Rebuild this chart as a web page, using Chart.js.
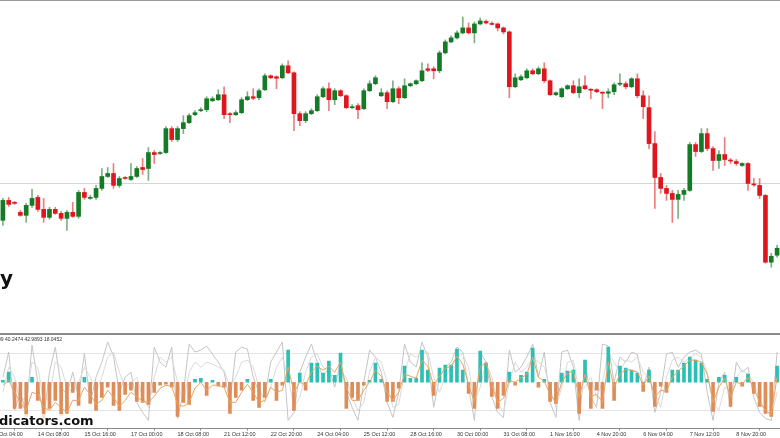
<!DOCTYPE html>
<html>
<head>
<meta charset="utf-8">
<script src="https://cdn.jsdelivr.net/npm/chart.js@4.4.1/dist/chart.umd.min.js"></script>
<style>
  html, body { margin: 0; padding: 0; background: #fff; }
  #wrap { position: relative; width: 780px; height: 438px; overflow: hidden; background: #fff; }
  #mainBox { position: absolute; left: 0; top: 0; width: 780px; height: 333px; border-top: 1px solid #9a9a9a; box-sizing: border-box; }
  #sep { position: absolute; left: 0; top: 333px; width: 780px; height: 2px; background: #8c8c8c; }
  #subBox { position: absolute; left: 0; top: 335px; width: 780px; height: 103px; }
  .mark { position: absolute; font-family: "DejaVu Sans", sans-serif; font-weight: bold; color: #111; white-space: nowrap; }
  #indText { position: absolute; left: -2px; top: 336px; font: 5px "Liberation Sans", sans-serif; color: #333; white-space: nowrap; }
</style>
</head>
<body>
<div id="wrap">
  <div id="mainBox"><canvas id="priceChart" width="780" height="332"></canvas></div>
  <div id="sep"></div>
  <div id="subBox"><canvas id="oscChart" width="780" height="103"></canvas></div>
  <div id="indText">99 40.2474 42.9893 18.0452</div>
  <div class="mark" style="left:0px; top:268px; font-size:20px; line-height:20px;">y</div>
  <div class="mark" style="left:-1px; top:414px; font-size:13px; line-height:14px; background:rgba(255,255,255,0.75);">dicators.com</div>
</div>
<script>
// candles (H4), one value per bar
const openP = [80,100,98,88,85,95,103,91,83,91,
  87,82,88,84,108,102,103,112,124,127,
  115,123,121,124,133,132,148,147,148,172,
  161,172,178,186,190,191,200,201,206,187,
  186,188,201,204,203,211,225,224,223,235,
  228,187,180,187,190,204,212,201,210,205,
  193,195,192,210,217,205,208,199,212,203,
  215,217,220,232,232,230,248,259,263,268,
  273,268,277,279.5,277.5,277,273,269,214,221,
  223,230,227,232,220,206,204,212,215,208,
  215,211.5,211,208.5,207.5,209,216.5,217,214,222,
  205,193,157,123,112,107,101,106,110,156,
  149,167,152,140,146,140.5,139,135,137,116.5,
  115,105,38,45];
const closeP = [100,96,97,85,95,102,91,83,91,87,
  82,88,84,108,103,103,112,124,127,115,
  122,122,124,132,131,148,146,148,172,161,
  172,178,185,188,191,202,202,206,186,186,
  188,201,204,202.5,210,225,223,222.5,235,228,
  187,180,187,190,204,212,201,210,205,193,
  194,191,210,217,223,208,199,212,203,215,
  217,220,230,230.5,230,248,259,263,268,273,
  268,277,280,278,276.5,273,269,214,223,224,
  230,227,232,220,206,208,212,215,208,214,
  212,210.5,209,207.5,209,216,217.5,214,222,205,
  194,157,123,112,107,101,106,110,156,149,
  167,152,140,146,141,139.5,137,137,117,115.5,
  105,38,44,52];
const highP = [102,103,99,90,97,111,105,102,93,93,
  89,90,98,110,112,105,115,132,133,137,
  124,124,137,134,142,153,150,149,174,174,
  174,185,187,190,193,204,204,211,214,188,
  190,203,209,212,212,227,226,225,237,240,
  229,189,189,192,206,214,218,212,211,206,
  196,197,212,220,225,212,210,220,214,222,
  218,221,238,237,234,250,261,265,270,284,
  278,279,283,281,279,278,274,270,227,226,
  232,232,234,238,221,209,213,216,220,222,
  225,212,212,209,212,218,227,219,223,227,
  210,205,169,127,115,110,110,112,158,158,
  172,172,154,150,163,142,141,138,138,122,
  122,106,47,55];
const lowP = [75,94,96,84,78,93,89,78,81,86,
  80,70,83,82,101,101,101,110,123,112,
  113,121,120,123,126,120,137,146,147,159,
  159,167,177,185,189,189,199,200,182,178,
  185,187,200,201,201,210,222,212,222,227,
  170,175,178,186,189,203,190,196,204,192,
  192,182,191,209,216,204,192,198,197,202,
  214,216,219,229,222,228,247,258,262,267,
  267,258,276,277,276,270,267,203,213,220,
  222,226,226,218,205,205,203,211,207,203,
  211,202,208,192,203,206,215,212,213,203,
  182,152,92,107,100,78,82,100,109,144,
  148,150,130,132,135,137,135,134,110,114,
  102,37,33,43];
const levelPrice = 117;

// oscillator panel
const histVals = [2,10,-26,-26,-34,5,-18,-36,-26,-18,
  -33,-31,-10,-23,5,-21,-28,-15,-5,-23,
  -28,-12,-8,-19,-20,-22,-10,-3,-2,-5,
  -34,-20,-22,3,4,-13,2,-4,-5,-31,
  -15,-8,3,-18,-25,-15,3,-18,-3,32,
  -28,9,-8,19,19,9,21,7,29,-26,
  -15,-18,-3,2,19,3,-19,-19,-6,16,
  4,4,32,12,-13,14,17,17,33,12,
  -11,-26,31,19,-14,-26,-13,10,-3,7,
  10,34,-5,3,-19,-21,9,11,12,-31,
  22,-26,-8,-26,35,-18,16,14,12,9,
  -9,12,-24,-4,-10,12,12,19,25,22,
  19,3,-29,5,7,-24,5,-4,8,-11,
  -24,-31,-34,16];
const signalVals = [-3,2,-10,-20,-28,-10,-12,-25,-28,-20,
  -25,-30,-18,-18,-5,-12,-22,-18,-8,-15,
  -24,-18,-10,-14,-19,-20,-14,-6,-3,-4,
  -22,-24,-20,-6,0,-8,-3,-3,-5,-20,
  -20,-10,-2,-10,-20,-18,-5,-10,-8,15,
  -10,0,-3,10,16,12,16,10,20,-5,
  -18,-18,-8,0,12,6,-10,-18,-10,8,
  6,4,22,16,-3,6,14,16,26,18,
  -2,-20,15,20,-3,-20,-16,2,0,4,
  8,25,5,1,-12,-20,0,9,11,-15,
  8,-14,-12,-20,20,-5,8,13,12,10,
  -3,6,-15,-8,-9,5,11,16,22,22,
  20,8,-20,-5,4,-15,0,-2,5,-6,
  -20,-28,-32,5];
const fastLine = [5,30,-28,-10,-30,37,0,-35,10,35,
  -5,-12,10,-15,29,-21,5,20,40,26,
  -10,5,10,-20,-30,-38,35,20,15,35,
  -36,-10,38,30,32,36,28,20,10,-20,
  30,35,33,5,-10,-15,20,30,40,-38,
  -30,10,25,38,20,5,15,-5,20,-10,
  -25,-38,0,32,25,10,-20,-35,-10,38,
  20,15,40,25,-25,5,15,20,35,30,
  -5,-38,30,20,-15,-30,-35,32,10,15,
  25,38,5,30,-20,-35,30,32,15,-38,
  20,-15,-25,38,36,0,25,20,30,28,
  -5,15,-30,-10,28,30,15,25,30,32,
  28,-10,-38,0,10,-25,20,10,15,-15,
  -30,-36,-38,30];
const slowLine = [-10,15,5,-20,-15,20,15,-20,-15,20,
  15,-5,-10,0,15,5,-10,5,25,30,
  10,-5,0,5,-15,-25,5,25,20,25,
  0,-20,10,20,15,20,18,15,12,-5,
  5,20,22,15,-5,-20,-5,15,25,5,
  -25,-15,10,25,28,15,10,5,10,5,
  -15,-28,-20,10,25,20,0,-25,-22,10,
  28,25,30,30,5,-10,5,15,25,28,
  15,-20,-5,20,5,-20,-30,0,20,10,
  15,25,20,15,-5,-25,-5,20,22,-10,
  -5,5,-15,0,30,20,10,22,20,25,
  10,5,-10,-25,5,22,25,20,25,28,
  25,10,-20,-28,-5,-10,5,12,8,0,
  -18,-28,-35,-10];
const oscLevels = [29, -28];

// time axis labels, one every 8 bars
const tickLabels = ['13 Oct 04:00','14 Oct 08:00','15 Oct 16:00','17 Oct 00:00','18 Oct 08:00',
  '21 Oct 12:00','22 Oct 20:00','24 Oct 04:00','25 Oct 12:00','28 Oct 16:00','30 Oct 00:00',
  '31 Oct 08:00','1 Nov 16:00','4 Nov 20:00','6 Nov 04:00','7 Nov 12:00','8 Nov 20:00'];
const tickBars = [-2,6,14,22,30,38,46,54,62,70,78,86,94,102,110,118,126];

const upColor = '#157a25';
const downColor = '#e0161e';

const nBars = openP.length;
const xScale = {
    type: 'linear', min: -0.5, max: nBars - 0.5, offset: false, bounds: 'data'
};

const bodies = openP.map((o, i) => ({ x: i, y: [o, closeP[i]] }));
const wicks = openP.map((o, i) => ({ x: i, y: [lowP[i], highP[i]] }));
const candleColors = openP.map((o, i) => closeP[i] >= o ? upColor : downColor);
const wickColors = openP.map((o, i) => closeP[i] >= o ? 'rgba(40,120,50,0.6)' : 'rgba(220,40,40,0.6)');

new Chart(document.getElementById('priceChart'), {
    type: 'bar',
    data: {
        datasets: [
            {
                label: 'body',
                data: bodies,
                backgroundColor: candleColors,
                barThickness: 4,
                grouped: false,
                order: 0
            },
            {
                label: 'wick',
                data: wicks,
                backgroundColor: wickColors,
                barThickness: 1,
                grouped: false,
                order: 1
            }
        ]
    },
    options: {
        responsive: false,
        animation: false,
        layout: { padding: 0 },
        plugins: { legend: { display: false }, tooltip: { enabled: false } },
        scales: {
            x: Object.assign({}, xScale, { display: false }),
            y: {
                min: -33, max: 300,
                display: true,
                ticks: { display: false },
                grid: { color: '#d6d6d6', drawTicks: false, lineWidth: 1 },
                border: { display: false },
                afterBuildTicks: (axis) => { axis.ticks = [{ value: levelPrice }]; }
            }
        }
    }
});

const histData = histVals.map((v, i) => ({ x: i, y: v }));
const histColors = histVals.map(v => v >= 0 ? '#2cbfb3' : '#de8d58');

new Chart(document.getElementById('oscChart'), {
    type: 'bar',
    data: {
        datasets: [
            {
                type: 'line',
                label: 'fast',
                data: fastLine.map((v, i) => ({ x: i, y: v })),
                borderColor: '#c4c4c4',
                borderWidth: 1,
                pointRadius: 0,
                tension: 0,
                order: 3
            },
            {
                type: 'line',
                label: 'slow',
                data: slowLine.map((v, i) => ({ x: i, y: v })),
                borderColor: '#dadada',
                borderWidth: 1,
                pointRadius: 0,
                tension: 0,
                order: 2
            },
            {
                type: 'line',
                label: 'signal',
                data: signalVals.map((v, i) => ({ x: i, y: v })),
                borderColor: '#e8a35e',
                borderWidth: 1,
                pointRadius: 0,
                tension: 0,
                order: 0
            },
            {
                label: 'hist',
                data: histData,
                backgroundColor: histColors,
                barThickness: 3,
                order: 1
            }
        ]
    },
    options: {
        responsive: false,
        animation: false,
        layout: { padding: { top: 2, left: 0, right: 0, bottom: 0 } },
        plugins: { legend: { display: false }, tooltip: { enabled: false } },
        scales: {
            x: Object.assign({}, xScale, {
                display: true,
                grid: { display: true, drawOnChartArea: false, drawTicks: true, tickLength: 2, color: '#888' },
                border: { display: true, color: '#8a8a8a' },
                ticks: {
                    autoSkip: false, maxRotation: 0, minRotation: 0, align: 'start', padding: 1,
                    color: '#333',
                    font: { family: 'Liberation Sans', size: 5.5, lineHeight: 1 },
                    callback: (value) => tickLabels[tickBars.indexOf(value)]
                },
                afterBuildTicks: (axis) => { axis.ticks = tickBars.map(b => ({ value: b })); },
                // first label sits left of the plot and is cut, like the original
                afterFit: (axis) => { axis.paddingLeft = 0; axis.paddingRight = 0; }
            }),
            y: {
                min: -46, max: 45,
                display: true,
                ticks: { display: false },
                grid: { color: '#e4e4e4', drawTicks: false },
                border: { display: false },
                afterBuildTicks: (axis) => { axis.ticks = oscLevels.map(v => ({ value: v })); }
            }
        }
    }
});
</script>
</body>
</html>
